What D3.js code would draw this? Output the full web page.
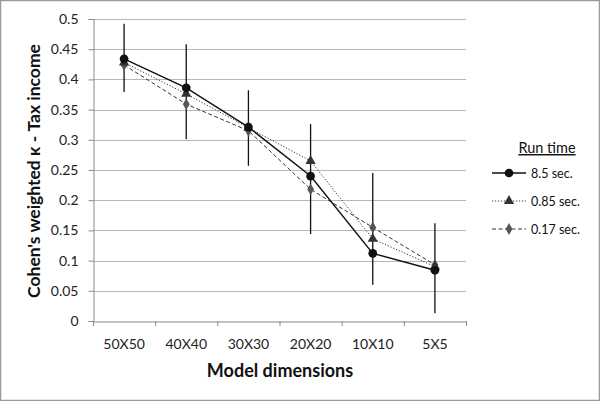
<!DOCTYPE html>
<html><head><meta charset="utf-8">
<script src="https://cdn.jsdelivr.net/npm/d3@7"></script>
<style>body{margin:0;background:#fff}svg{display:block}</style>
</head><body>
<svg id="c" width="600" height="401"></svg>
<script>
const categories = ["50X50","40X40","30X30","20X20","10X10","5X5"];
const seriesNames = ["8.5 sec.","0.85 sec.","0.17 sec."];
const run85 = [0.434,0.386,0.321,0.240,0.112,0.084];
const run085 = [0.428,0.376,0.320,0.265,0.136,0.090];
const run017 = [0.424,0.359,0.315,0.218,0.155,0.093];
const errLow = [0.379,0.301,0.257,0.144,0.060,0.013];
const errHigh = [0.492,0.458,0.382,0.326,0.245,0.162];
const yTicks = [0,0.05,0.1,0.15,0.2,0.25,0.3,0.35,0.4,0.45,0.5];

const svg = d3.select("#c");
const font = "Lato, 'Open Sans', sans-serif";
svg.append("rect").attr("x",0.5).attr("y",0.5).attr("width",599).attr("height",400)
  .attr("fill","#fff").attr("stroke","#9a9a9a").attr("stroke-width",1.5);

const L=93, R=466, T=19, B=321;
const x = d3.scaleBand().domain(categories).range([L,R]);
const y = d3.scaleLinear().domain([0,0.5]).range([B,T]);

// gridlines
svg.append("g").selectAll("line").data(yTicks.slice(1)).join("line")
  .attr("x1",L).attr("x2",R).attr("y1",d=>Math.round(y(d))+0.5).attr("y2",d=>Math.round(y(d))+0.5)
  .attr("stroke","#b8b8b8").attr("stroke-width",1);

// y axis
const ya = svg.append("g").attr("transform",`translate(${L+0.5},0)`)
  .call(d3.axisLeft(y).tickValues(yTicks).tickSize(5).tickPadding(10).tickFormat(d=>String(d)));
ya.select(".domain").attr("stroke","#8a8a8a");
ya.selectAll(".tick line").attr("stroke","#8a8a8a");
ya.selectAll(".tick text").attr("font-family",font).attr("font-size",14).attr("fill","#222");

// x axis
const xa = svg.append("g").attr("transform",`translate(0,${B+0.5})`)
  .call(d3.axisBottom(x).tickSize(0).tickPadding(18));
xa.select(".domain").attr("stroke","#8a8a8a");
xa.selectAll(".tick text").attr("font-family",font).attr("font-size",14).attr("fill","#222");
svg.append("g").selectAll("line").data(categories.concat(["end"])).join("line")
  .attr("x1",(d,i)=>L+i*x.bandwidth()+0.5).attr("x2",(d,i)=>L+i*x.bandwidth()+0.5)
  .attr("y1",B).attr("y2",B+5).attr("stroke","#8a8a8a");

const cx = c => x(c)+x.bandwidth()/2;

// error bars
svg.append("g").selectAll("line").data(categories).join("line")
  .attr("x1",d=>cx(d)).attr("x2",d=>cx(d))
  .attr("y1",(d,i)=>y(errHigh[i])).attr("y2",(d,i)=>y(errLow[i]))
  .attr("stroke","#111").attr("stroke-width",1.3);

const series = [
  {name:seriesNames[0], vals:run85, dash:null, color:"#111", sw:1.4, marker:"circle", mcolor:"#111"},
  {name:seriesNames[1], vals:run085, dash:"1.2,1.8", color:"#333", sw:1, marker:"triangle", mcolor:"#333"},
  {name:seriesNames[2], vals:run017, dash:"4,2.5", color:"#333", sw:1, marker:"diamond", mcolor:"#555"}
];
const sym = {circle:[d3.symbolCircle,60], triangle:[d3.symbolTriangle,45], diamond:[d3.symbolDiamond,40]};

const line = d3.line().x((d,i)=>cx(categories[i])).y(d=>y(d));
[2,1,0].forEach(k=>{
  const s = series[k];
  svg.append("path").datum(s.vals).attr("d",line).attr("fill","none")
    .attr("stroke",s.color).attr("stroke-width",s.sw).attr("stroke-dasharray",s.dash);
});
[2,1,0].forEach(k=>{
  const s = series[k];
  svg.append("g").selectAll("path").data(s.vals).join("path")
    .attr("transform",(d,i)=>`translate(${cx(categories[i])},${y(d)})`)
    .attr("d",d3.symbol().type(sym[s.marker][0]).size(sym[s.marker][1]))
    .attr("fill",s.mcolor);
});

// axis titles
svg.append("text").attr("transform","translate(40,171) rotate(-90)").attr("text-anchor","middle")
  .attr("font-family",font).attr("font-weight","bold").attr("font-size",17.5).attr("fill","#111")
  .text("Cohen's weighted κ - Tax income");
svg.append("text").attr("x",280).attr("y",377).attr("text-anchor","middle")
  .attr("font-family",font).attr("font-weight","bold").attr("font-size",18).attr("fill","#111")
  .text("Model dimensions");

// legend
const lg = svg.append("g");
lg.append("text").attr("x",547).attr("y",153).attr("text-anchor","middle")
  .attr("font-family",font).attr("font-size",14.5).attr("fill","#111")
  .attr("text-decoration","underline").text("Run time");
series.forEach((s,i)=>{
  const yy = 173 + i*28;
  lg.append("line").attr("x1",492).attr("x2",526).attr("y1",yy).attr("y2",yy)
    .attr("stroke",s.color).attr("stroke-width",s.sw).attr("stroke-dasharray",s.dash);
  lg.append("path").attr("transform",`translate(509,${yy})`)
    .attr("d",d3.symbol().type(sym[s.marker][0]).size(sym[s.marker][1])).attr("fill",s.mcolor);
  lg.append("text").attr("x",531).attr("y",yy+4.5).attr("font-family",font).attr("font-size",12.5)
    .attr("fill","#111").text(s.name);
});
</script>
</body></html>
